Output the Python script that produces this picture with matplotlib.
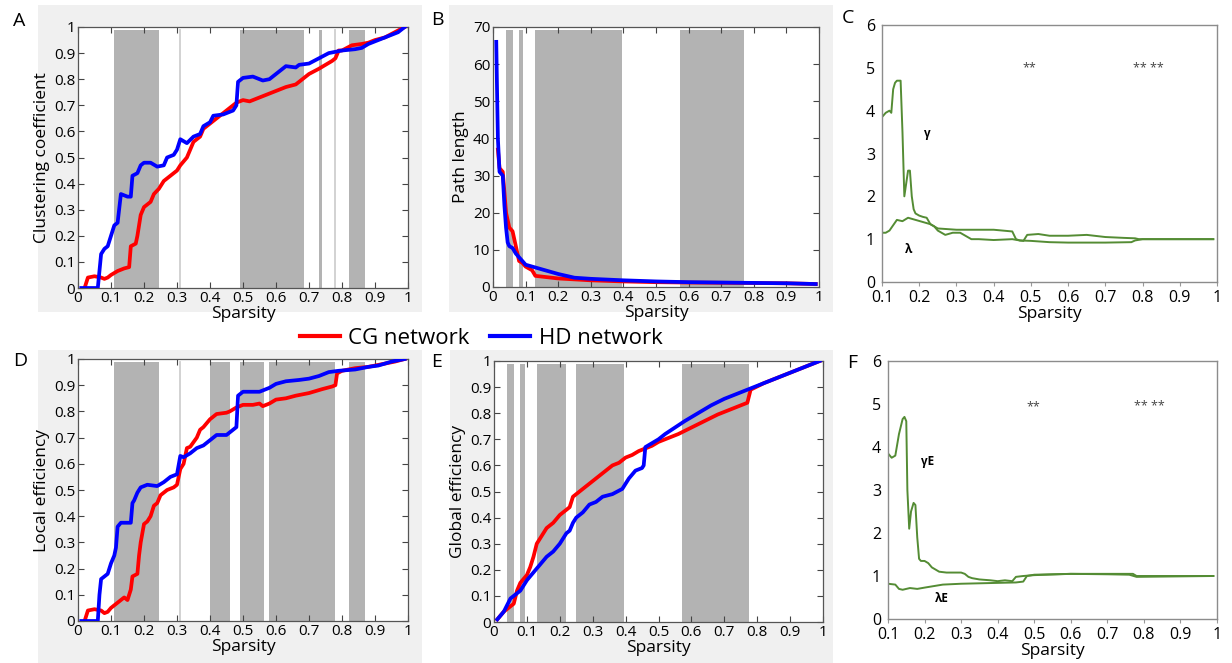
import matplotlib.pyplot as plt
from matplotlib.patches import Rectangle
from matplotlib.lines import Line2D

plt.rcParams['font.family'] = ['Open Sans', 'DejaVu Sans']

W, H = 1232, 663

# ---- data ----
# A: clustering coefficient
cc_cg_x = [0.02, 0.03, 0.05, 0.07, 0.08, 0.09, 0.10, 0.12, 0.14, 0.155, 0.16, 0.175, 0.18, 0.19, 0.20,
           0.22, 0.23, 0.245, 0.26, 0.28, 0.30, 0.31, 0.33, 0.34, 0.35, 0.37, 0.38, 0.40, 0.42, 0.44,
           0.46, 0.48, 0.50, 0.52, 0.55, 0.57, 0.60, 0.63, 0.66, 0.68, 0.70, 0.73, 0.75, 0.77, 0.78,
           0.79, 0.80, 0.83, 0.86, 0.88, 0.90, 0.93, 0.96, 0.99]
cc_cg_y = [0.0, 0.04, 0.045, 0.04, 0.035, 0.04, 0.05, 0.065, 0.075, 0.08, 0.16, 0.17, 0.2, 0.28, 0.31,
           0.33, 0.36, 0.38, 0.41, 0.43, 0.45, 0.47, 0.50, 0.53, 0.56, 0.58, 0.61, 0.63, 0.65, 0.67,
           0.69, 0.71, 0.72, 0.715, 0.73, 0.74, 0.755, 0.77, 0.78, 0.80, 0.82, 0.84, 0.855, 0.87, 0.88,
           0.91, 0.91, 0.93, 0.935, 0.94, 0.95, 0.96, 0.98, 1.0]
cc_hd_x = [0.01, 0.06, 0.07, 0.08, 0.09, 0.10, 0.11, 0.12, 0.13, 0.15, 0.16, 0.165, 0.18, 0.19, 0.20,
           0.22, 0.24, 0.26, 0.27, 0.29, 0.30, 0.31, 0.33, 0.35, 0.37, 0.38, 0.40, 0.41, 0.44, 0.47,
           0.48, 0.485, 0.50, 0.53, 0.56, 0.58, 0.60, 0.63, 0.66, 0.67, 0.70, 0.73, 0.76, 0.80, 0.84,
           0.86, 0.88, 0.91, 0.94, 0.97, 0.99]
cc_hd_y = [0.0, 0.0, 0.13, 0.15, 0.16, 0.2, 0.24, 0.25, 0.36, 0.35, 0.35, 0.43, 0.44, 0.47, 0.48,
           0.48, 0.465, 0.47, 0.5, 0.51, 0.53, 0.57, 0.555, 0.58, 0.59, 0.62, 0.635, 0.66, 0.665, 0.68,
           0.70, 0.79, 0.805, 0.81, 0.795, 0.80, 0.82, 0.85, 0.845, 0.855, 0.86, 0.88, 0.90, 0.91, 0.915,
           0.92, 0.935, 0.95, 0.965, 0.98, 1.0]

# B: path length
pl_cg_x = [0.015, 0.02, 0.03, 0.04, 0.05, 0.06, 0.07, 0.08, 0.09, 0.10, 0.12, 0.13, 0.16, 0.20,
           0.30, 0.40, 0.50, 0.60, 0.75, 0.90, 0.99]
pl_cg_y = [37, 32, 31, 20, 16, 15, 11, 7, 6.5, 5.5, 4.5, 3, 2.7, 2.3, 1.8, 1.5, 1.3, 1.2, 1.1, 1.0, 0.8]
pl_hd_x = [0.01, 0.012, 0.015, 0.02, 0.03, 0.035, 0.04, 0.045, 0.05, 0.06, 0.07, 0.08, 0.09, 0.10,
           0.12, 0.14, 0.16, 0.18, 0.20, 0.25, 0.30, 0.40, 0.50, 0.60, 0.70, 0.80, 0.90, 0.99]
pl_hd_y = [66, 55, 40, 31, 30, 22, 16, 12, 11, 10.5, 9, 8, 7, 6, 5.5, 5, 4.5, 4, 3.5, 2.5, 2.2, 1.8,
           1.5, 1.3, 1.2, 1.1, 1.0, 0.8]

# C: gamma / lambda
gam_x = [0.10, 0.11, 0.12, 0.125, 0.13, 0.135, 0.14, 0.15, 0.155, 0.16, 0.165, 0.17, 0.175, 0.18,
         0.185, 0.19, 0.20, 0.21, 0.22, 0.23, 0.24, 0.25, 0.27, 0.29, 0.31, 0.32, 0.33, 0.34, 0.36,
         0.40, 0.45, 0.47, 0.48, 0.49, 0.52, 0.55, 0.60, 0.65, 0.70, 0.75, 0.78, 0.79, 0.99]
gam_y = [3.85, 3.95, 4.0, 3.95, 4.5, 4.65, 4.7, 4.7, 3.5, 2.0, 2.3, 2.6, 2.6, 2.0, 1.7, 1.6, 1.55,
         1.52, 1.5, 1.35, 1.3, 1.2, 1.1, 1.15, 1.15, 1.1, 1.05, 1.0, 1.0, 0.98, 1.0, 0.97, 0.96, 1.1,
         1.12, 1.08, 1.08, 1.1, 1.05, 1.03, 1.02, 1.0, 1.0]
lam_x = [0.10, 0.11, 0.12, 0.14, 0.155, 0.17, 0.19, 0.21, 0.23, 0.25, 0.30, 0.35, 0.40, 0.45, 0.46,
         0.47, 0.50, 0.55, 0.60, 0.70, 0.77, 0.78, 0.80, 0.99]
lam_y = [1.15, 1.15, 1.2, 1.45, 1.42, 1.5, 1.45, 1.4, 1.35, 1.25, 1.22, 1.22, 1.22, 1.18, 1.0, 0.97,
         0.96, 0.93, 0.92, 0.92, 0.93, 0.97, 1.0, 1.0]

# D: local efficiency
le_cg_x = [0.02, 0.03, 0.05, 0.07, 0.08, 0.09, 0.10, 0.12, 0.13, 0.14, 0.15, 0.16, 0.165, 0.18, 0.185,
           0.19, 0.20, 0.21, 0.22, 0.23, 0.24, 0.25, 0.27, 0.29, 0.30, 0.31, 0.32, 0.33, 0.34, 0.36,
           0.37, 0.38, 0.40, 0.42, 0.45, 0.46, 0.48, 0.50, 0.53, 0.55, 0.56, 0.58, 0.60, 0.63, 0.66,
           0.70, 0.74, 0.77, 0.78, 0.785, 0.80, 0.84, 0.88, 0.92, 0.96, 0.99]
le_cg_y = [0.0, 0.04, 0.045, 0.04, 0.03, 0.035, 0.05, 0.07, 0.08, 0.09, 0.08, 0.12, 0.17, 0.18, 0.25,
           0.3, 0.37, 0.38, 0.4, 0.44, 0.45, 0.48, 0.5, 0.51, 0.52, 0.58, 0.6, 0.66, 0.665, 0.7,
           0.73, 0.74, 0.77, 0.79, 0.795, 0.80, 0.815, 0.825, 0.825, 0.83, 0.82, 0.83, 0.845, 0.85, 0.86,
           0.87, 0.885, 0.895, 0.9, 0.945, 0.955, 0.965, 0.97, 0.98, 0.99, 1.0]
le_hd_x = [0.01, 0.06, 0.065, 0.07, 0.09, 0.10, 0.11, 0.115, 0.12, 0.13, 0.16, 0.165, 0.17, 0.18,
           0.19, 0.21, 0.24, 0.26, 0.28, 0.29, 0.30, 0.31, 0.32, 0.34, 0.36, 0.38, 0.40, 0.42, 0.45,
           0.47, 0.48, 0.485, 0.50, 0.55, 0.56, 0.58, 0.60, 0.63, 0.67, 0.70, 0.73, 0.76, 0.79, 0.84,
           0.88, 0.91, 0.95, 0.99]
le_hd_y = [0.0, 0.0, 0.1, 0.16, 0.18, 0.22, 0.25, 0.28, 0.36, 0.375, 0.375, 0.45, 0.46, 0.49,
           0.51, 0.52, 0.515, 0.53, 0.55, 0.555, 0.56, 0.63, 0.625, 0.64, 0.66, 0.67, 0.69, 0.71, 0.71,
           0.73, 0.74, 0.86, 0.875, 0.875, 0.88, 0.89, 0.905, 0.915, 0.92, 0.925, 0.935, 0.95, 0.955,
           0.96, 0.97, 0.975, 0.99, 1.0]

# E: global efficiency
ge_cg_x = [0.01, 0.03, 0.05, 0.06, 0.07, 0.08, 0.10, 0.11, 0.12, 0.13, 0.14, 0.16, 0.18, 0.20, 0.22,
           0.23, 0.24, 0.26, 0.28, 0.30, 0.32, 0.34, 0.36, 0.38, 0.40, 0.42, 0.44, 0.46, 0.48, 0.50,
           0.53, 0.56, 0.60, 0.64, 0.68, 0.72, 0.76, 0.77, 0.78, 0.82, 0.86, 0.90, 0.94, 0.99]
ge_cg_y = [0.01, 0.04, 0.06, 0.07, 0.12, 0.15, 0.18, 0.21, 0.25, 0.3, 0.32, 0.36, 0.38, 0.41, 0.43,
           0.44, 0.48, 0.5, 0.52, 0.54, 0.56, 0.58, 0.6, 0.61, 0.63, 0.64, 0.655, 0.665, 0.675, 0.69,
           0.705, 0.72, 0.745, 0.77, 0.795, 0.815, 0.835, 0.84, 0.89, 0.915, 0.935, 0.955, 0.975, 1.0]
ge_hd_x = [0.01, 0.03, 0.05, 0.06, 0.08, 0.10, 0.12, 0.14, 0.16, 0.18, 0.20, 0.22, 0.23, 0.24, 0.25,
           0.27, 0.29, 0.31, 0.33, 0.36, 0.39, 0.41, 0.43, 0.45, 0.455, 0.46, 0.48, 0.50, 0.52, 0.55,
           0.58, 0.62, 0.66, 0.70, 0.74, 0.78, 0.82, 0.86, 0.90, 0.94, 0.99]
ge_hd_y = [0.01, 0.04, 0.09, 0.1, 0.12, 0.16, 0.19, 0.22, 0.25, 0.27, 0.30, 0.34, 0.35, 0.38, 0.40,
           0.42, 0.45, 0.46, 0.48, 0.49, 0.51, 0.55, 0.58, 0.59, 0.6, 0.67, 0.685, 0.70, 0.72, 0.745,
           0.77, 0.80, 0.83, 0.855, 0.875, 0.895, 0.915, 0.935, 0.955, 0.975, 1.0]

# F: gamma E / lambda E
gamE_x = [0.10, 0.11, 0.12, 0.13, 0.14, 0.145, 0.15, 0.153, 0.158, 0.163, 0.17, 0.175, 0.18, 0.185,
          0.19, 0.20, 0.21, 0.22, 0.23, 0.24, 0.26, 0.30, 0.31, 0.32, 0.33, 0.35, 0.38, 0.40, 0.42,
          0.44, 0.45, 0.47, 0.50, 0.60, 0.70, 0.77, 0.78, 0.99]
gamE_y = [3.85, 3.75, 3.8, 4.3, 4.65, 4.7, 4.6, 3.0, 2.1, 2.5, 2.7, 2.65, 1.9, 1.4, 1.35, 1.35, 1.3,
          1.2, 1.15, 1.1, 1.08, 1.08, 1.05, 0.98, 0.95, 0.92, 0.9, 0.88, 0.9, 0.88, 0.98, 1.0, 1.02,
          1.05, 1.05, 1.05, 1.0, 1.0]
lamE_x = [0.10, 0.12, 0.13, 0.14, 0.16, 0.18, 0.20, 0.25, 0.30, 0.40, 0.45, 0.47, 0.48, 0.50, 0.60,
          0.70, 0.76, 0.78, 0.99]
lamE_y = [0.82, 0.8, 0.7, 0.68, 0.72, 0.7, 0.73, 0.8, 0.82, 0.84, 0.85, 0.87, 1.0, 1.03, 1.05, 1.04,
          1.03, 0.98, 1.0]

# significant sparsity ranges (grey bands) and thin markers
spans_A = [(0.11, 0.245), (0.49, 0.685), (0.73, 0.74), (0.82, 0.87)]
thin_A = [0.31, 0.78]
spans_B = [(0.04, 0.06), (0.08, 0.093), (0.13, 0.395), (0.575, 0.77)]
spans_D = [(0.11, 0.245), (0.40, 0.46), (0.49, 0.563), (0.58, 0.78), (0.82, 0.87)]
thin_D = [0.31]
spans_E = [(0.04, 0.06), (0.08, 0.093), (0.13, 0.22), (0.25, 0.395), (0.57, 0.775)]

ticks01 = [i / 10 for i in range(11)]
tick01_labels = ['0', '0.1', '0.2', '0.3', '0.4', '0.5', '0.6', '0.7', '0.8', '0.9', '1']

RED = '#ff0000'
BLUE = '#0000ff'
GREEN = '#548c34'
SPAN = '#b3b3b3'

fig = plt.figure(figsize=(W / 100, H / 100), dpi=100)


def px(l, t, r, b):
    return [l / W, 1 - b / H, (r - l) / W, (b - t) / H]


# light grey panel backgrounds (drawn behind the axes)
for (l, t, r, b) in [(38, 5, 422, 312), (449, 5, 833, 312), (38, 350, 422, 663), (450, 350, 833, 663)]:
    fig.patches.append(Rectangle((l / W, 1 - b / H), (r - l) / W, (b - t) / H,
                                 transform=fig.transFigure, facecolor='#f0f0f0',
                                 edgecolor='none', zorder=-10))


def network_panel(rect, cg, hd, spans, thin, ylim, yticks, ylabel):
    ax = fig.add_axes(px(*rect))
    ax.set_facecolor('white')
    top = ylim[1] * 0.988
    for a, b in spans:
        ax.fill_between([a, b], 0, top, color=SPAN, lw=0, zorder=1)
    for v in thin:
        ax.plot([v, v], [0, top], color='#cfcfcf', lw=1.3, zorder=1)
    ax.plot(cg[0], cg[1], color=RED, lw=2.7, zorder=3)
    ax.plot(hd[0], hd[1], color=BLUE, lw=2.7, zorder=4)
    ax.set_xlim(0, 1)
    ax.set_ylim(*ylim)
    ax.set_xticks(ticks01)
    ax.set_xticklabels(tick01_labels)
    ax.set_yticks(yticks)
    ax.tick_params(direction='in', top=True, right=True, length=4, width=0.8,
                   color='#444444', labelsize=11, pad=2)
    for s in ax.spines.values():
        s.set_color('#555555')
        s.set_linewidth(0.9)
    ax.set_xlabel('Sparsity', fontsize=12.5, labelpad=0)
    ax.set_ylabel(ylabel, fontsize=12.5, labelpad=3)
    return ax


frac_labels = ['0', '0.1', '0.2', '0.3', '0.4', '0.5', '0.6', '0.7', '0.8', '0.9', '1']

axA = network_panel((78, 27, 408, 288), (cc_cg_x, cc_cg_y), (cc_hd_x, cc_hd_y), spans_A, thin_A,
                    (0, 1), ticks01, 'Clustering coefficient')
axB = network_panel((493, 27, 819, 287), (pl_cg_x, pl_cg_y), (pl_hd_x, pl_hd_y), spans_B, [],
                    (0, 70), list(range(0, 71, 10)), 'Path length')
axD = network_panel((78, 359, 408, 621), (le_cg_x, le_cg_y), (le_hd_x, le_hd_y), spans_D, thin_D,
                    (0, 1), ticks01, 'Local efficiency')
axE = network_panel((494, 361, 823, 622), (ge_cg_x, ge_cg_y), (ge_hd_x, ge_hd_y), spans_E, [],
                    (0, 1), ticks01, 'Global efficiency')
for ax in (axA, axD, axE):
    ax.set_yticklabels(frac_labels)


def ratio_panel(rect, g, lm, glabel, glabel_xy, llabel, llabel_xy, star_y):
    ax = fig.add_axes(px(*rect))
    ax.plot(g[0], g[1], color=GREEN, lw=1.4)
    ax.plot(lm[0], lm[1], color=GREEN, lw=1.4)
    ax.set_xlim(0.1, 1)
    ax.set_ylim(0, 6)
    ax.set_xticks(ticks01[1:])
    ax.set_xticklabels(tick01_labels[1:])
    ax.set_yticks(range(7))
    ax.tick_params(axis='x', direction='out', length=3, color='#999999', labelsize=11.5, pad=3)
    ax.tick_params(axis='y', length=0, labelsize=11.5, pad=5)
    for s in ax.spines.values():
        s.set_color('#8c8c8c')
        s.set_linewidth(1.0)
    ax.text(*glabel_xy, glabel, fontsize=8.5, fontweight='bold', ha='center', va='center')
    ax.text(*llabel_xy, llabel, fontsize=8.5, fontweight='bold', ha='center', va='center')
    ax.text(0.497, star_y, '**', fontsize=9, color='#444444', ha='center', va='center')
    ax.text(0.815, star_y, '** **', fontsize=9, color='#444444', ha='center', va='center')
    ax.set_xlabel('Sparsity', fontsize=12.5, labelpad=0)
    return ax


ratio_panel((882, 25, 1217, 282), (gam_x, gam_y), (lam_x, lam_y),
            'γ', (0.221, 3.47), 'λ', (0.172, 0.75), 4.99)
ratio_panel((888, 361, 1217, 619), (gamE_x, gamE_y), (lamE_x, lamE_y),
            'γE', (0.207, 3.67), 'λE', (0.248, 0.48), 4.94)

# panel letters
for letter, x, y in [('A', 19, 21), ('B', 437, 20), ('C', 848, 18),
                     ('D', 20, 361), ('E', 437, 362), ('F', 852, 363)]:
    fig.text(x / W, 1 - y / H, letter, fontsize=14, ha='center', va='center')

handles = [Line2D([], [], color=RED, lw=3), Line2D([], [], color=BLUE, lw=3)]
fig.legend(handles, ['CG network', 'HD network'], loc='center', ncol=2,
           bbox_to_anchor=(481 / W, 1 - 338 / H), frameon=False, fontsize=16,
           handlelength=1.8, handletextpad=0.4, columnspacing=0.9)

fig.savefig('out.png', dpi=100)
